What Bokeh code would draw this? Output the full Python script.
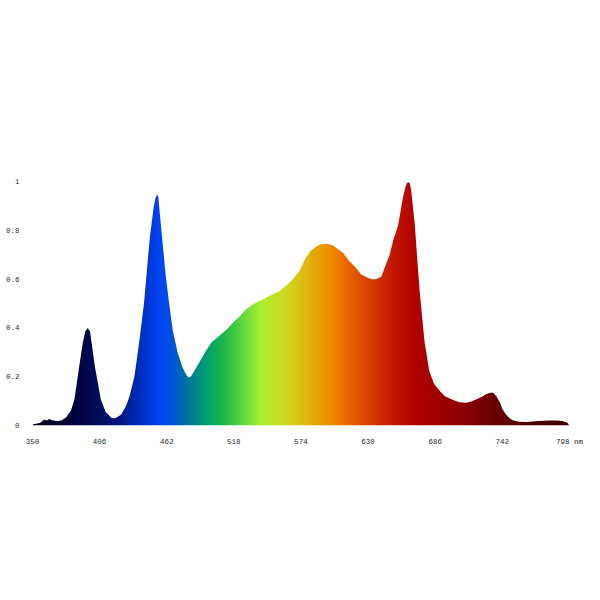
import numpy as np
from bokeh.plotting import figure
from bokeh.models import Range1d, FixedTicker
from bokeh.embed import file_html
from bokeh.resources import INLINE

# ---- data (wavelength nm, relative intensity) ----
wavelength = [350, 352, 356, 360, 362, 364, 367, 371, 374, 378, 382, 385, 389, 392, 394, 396,
              398, 399, 402, 407, 411, 416, 419, 424, 428, 431, 435, 439, 443, 448, 451, 452.5, 454,
              455, 456, 458, 461, 464, 467, 471, 475, 478, 480, 482, 484, 489, 494, 499, 504, 512, 517,
              523, 528, 535, 542, 549, 556, 562, 567, 573, 578, 582, 587, 590, 595, 600,
              604, 609, 614, 620, 624, 630, 634, 637, 641, 644, 648, 651, 655, 659, 661, 662.5,
              664, 665, 666, 669, 671, 673, 677, 681, 685, 690, 694, 701, 706, 712, 716, 720,
              725, 728, 731, 734, 737, 740, 742, 745, 748, 751, 756, 762, 767, 773, 780,
              787, 792, 796, 798]
intensity = [0.005, 0.006, 0.010, 0.025, 0.021, 0.027, 0.020, 0.018, 0.020, 0.033, 0.060, 0.107, 0.243, 0.340, 0.385, 0.400,
             0.385, 0.350, 0.243, 0.107, 0.055, 0.031, 0.030, 0.045, 0.080, 0.120, 0.200, 0.340, 0.500, 0.776, 0.890, 0.930, 0.947,
             0.935, 0.880, 0.776, 0.620, 0.500, 0.390, 0.300, 0.240, 0.210, 0.197, 0.200, 0.215, 0.257, 0.300, 0.339, 0.360, 0.393, 0.420,
             0.448, 0.475, 0.500, 0.516, 0.535, 0.550, 0.575, 0.598, 0.635, 0.687, 0.715, 0.735, 0.742, 0.745, 0.740,
             0.725, 0.708, 0.675, 0.646, 0.620, 0.605, 0.598, 0.600, 0.610, 0.650, 0.700, 0.760, 0.820, 0.933, 0.975, 0.995,
             1.000, 0.990, 0.960, 0.820, 0.680, 0.550, 0.345, 0.223, 0.170, 0.140, 0.120, 0.105, 0.095, 0.093, 0.098, 0.107,
             0.118, 0.127, 0.133, 0.135, 0.120, 0.093, 0.068, 0.045, 0.030, 0.020, 0.015, 0.014, 0.016, 0.018, 0.020,
             0.021, 0.018, 0.012, 0.000]

x_ticks = [350, 406, 462, 518, 574, 630, 686, 742, 798]
x_tick_labels = ["350", "406", "462", "518", "574", "630", "686", "742", "798 nm"]
y_ticks = [0, 0.2, 0.4, 0.6, 0.8, 1]
y_tick_labels = ["0", "0.2", "0.4", "0.6", "0.8", "1"]

# ---- colour ramp across the spectrum (style) ----
cm_nm = [350, 380, 400, 420, 440, 455, 465, 480, 495, 510, 525, 540, 555, 570, 585,
         600, 615, 630, 650, 670, 700, 730, 760, 798]
cm_hex = ["#000018", "#000035", "#000a55", "#00157a", "#0030c0", "#0045f5", "#0050e0",
          "#007898", "#00a070", "#20b848", "#60d840", "#a8f030", "#c8e028", "#d8c818",
          "#e4a808", "#f08800", "#e86000", "#d84000", "#c41800", "#b00000", "#980000",
          "#700000", "#500000", "#400000"]

xmin, xmax = wavelength[0], wavelength[-1]
n = 900
img_x0, img_x1 = xmin + 0.5, xmax - 0.5
grid = np.linspace(img_x0, img_x1, n)
rgb = np.array([[int(h[i:i + 2], 16) for i in (1, 3, 5)] for h in cm_hex], dtype=float)
r = np.interp(grid, cm_nm, rgb[:, 0])
g = np.interp(grid, cm_nm, rgb[:, 1])
b = np.interp(grid, cm_nm, rgb[:, 2])
img = np.zeros((2, n), dtype=np.uint32)
view = img.view(dtype=np.uint8).reshape((2, n, 4))
for row in range(2):
    view[row, :, 0] = r.astype(np.uint8)
    view[row, :, 1] = g.astype(np.uint8)
    view[row, :, 2] = b.astype(np.uint8)
    view[row, :, 3] = 255

p = figure(output_backend="svg", toolbar_location=None,
           x_range=Range1d(xmin, xmax), y_range=Range1d(0, 1.0),
           frame_width=537, frame_height=244,
           min_border_left=32, min_border_right=22, min_border_top=181, min_border_bottom=140)

p.image_rgba(image=[img], x=img_x0, y=0, dw=img_x1 - img_x0, dh=0.996)
# white mask above the spectrum curve
p.varea(x=wavelength, y1=intensity, y2=[1.1] * len(wavelength), fill_color="white", fill_alpha=1.0)

p.xgrid.visible = False
p.ygrid.visible = False
p.outline_line_color = None
p.background_fill_color = "white"
p.border_fill_color = "white"

font = "Liberation Mono"
for ax in (p.xaxis[0], p.yaxis[0]):
    ax.axis_line_color = None
    ax.major_tick_line_color = None
    ax.minor_tick_line_color = None
    ax.major_tick_out = 0
    ax.major_tick_in = 0
    ax.major_label_text_font = font
    ax.major_label_text_font_size = "7.5px"
    ax.major_label_text_color = "#2a2a2a"

p.xaxis[0].ticker = FixedTicker(ticks=x_ticks)
p.xaxis[0].major_label_overrides = dict(zip(x_ticks, x_tick_labels))
p.xaxis[0].major_label_standoff = 12
p.yaxis[0].ticker = FixedTicker(ticks=y_ticks)
p.yaxis[0].major_label_overrides = dict(zip(y_ticks, y_tick_labels))
p.yaxis[0].major_label_standoff = 13

open("out.html", "w").write(file_html(p, INLINE))
